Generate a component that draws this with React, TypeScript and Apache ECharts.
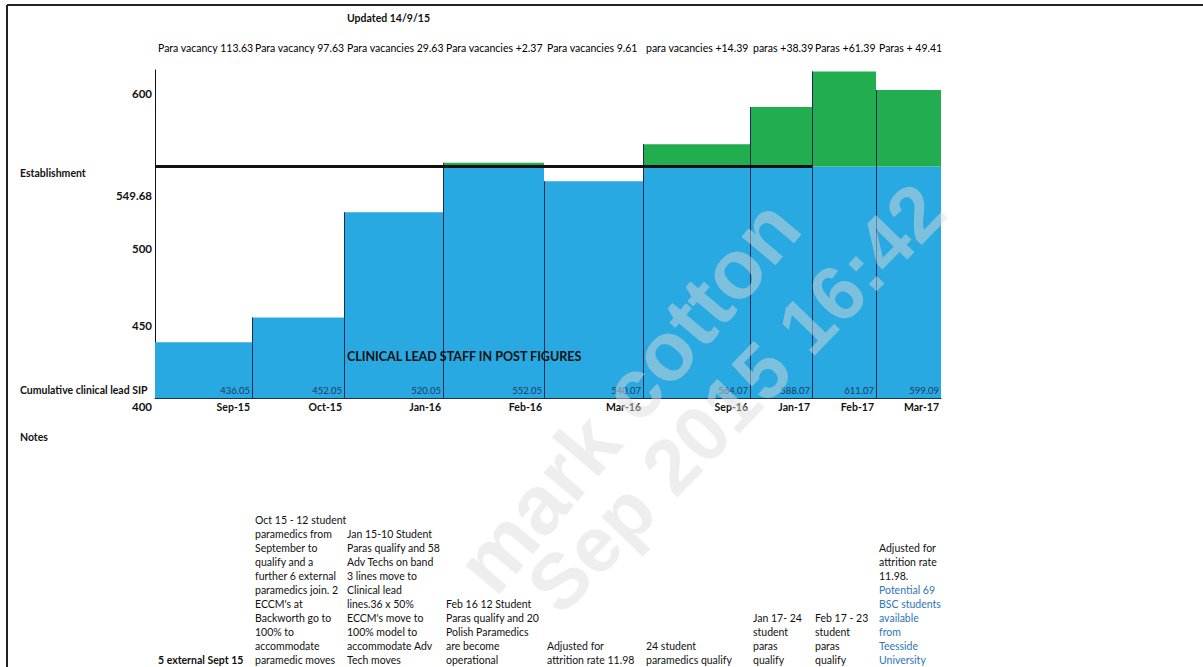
import React, { useEffect, useRef } from 'react';
import * as echarts from 'echarts';

// ---- data ----
const months = ['Sep-15', 'Oct-15', 'Jan-16', 'Feb-16', 'Mar-16', 'Sep-16', 'Jan-17', 'Feb-17', 'Mar-17'];
const staffInPost = [436.05, 452.05, 520.05, 552.05, 540.07, 564.07, 588.07, 611.07, 599.09];
const establishment = 549.68;
const yTickValues = [400, 450, 500, 549.68, 600];
const vacancyPrefixes = [
  'Para vacancy ',
  'Para vacancy ',
  'Para vacancies ',
  'Para vacancies +',
  'Para vacancies ',
  'para vacancies +',
  'paras +',
  'Paras +',
  'Paras + ',
];
const notes = [
  '5 external Sept 15',
  "Oct 15 - 12 student\nparamedics from\nSeptember to\nqualify and a\nfurther 6 external\nparamedics join. 2\nECCM's at\nBackworth go to\n100% to\naccommodate\nparamedic moves",
  "Jan 15-10 Student\nParas qualify and 58\nAdv Techs on band\n3 lines move to\nClinical lead\nlines.36 x 50%\nECCM's move to\n100% model to\naccommodate Adv\nTech moves",
  'Feb 16 12 Student\nParas qualify and 20\nPolish Paramedics\nare become\noperational',
  'Adjusted for\nattrition rate 11.98',
  '24 student\nparamedics qualify',
  'Jan 17- 24\nstudent\nparas\nqualify',
  'Feb 17 - 23\nstudent\nparas\nqualify',
  'Adjusted for\nattrition rate\n11.98.',
];
const noteHighlights = ['', '', '', '', '', '', '', '', 'Potential 69\nBSC students\navailable\nfrom\nTeesside\nUniversity'];

// ---- layout ----
const columnWidths = [97, 92, 99, 101, 99, 107, 62, 64, 65];
const establishmentLineSpan = 7; // columns crossed by the establishment rule
const Y_MIN = 400;
const Y_MAX = 612;
const FONT = 'Lato, "Open Sans", sans-serif';
const BLUE = '#29a9e1';
const GREEN = '#22ad4f';
const DIVIDER = '#1c2c52';
const TEXT = '#111111';
const WATERMARK_FILL = 'rgba(218,218,218,0.47)';

const columnStarts: number[] = [];
columnWidths.reduce((acc, w) => {
  columnStarts.push(acc);
  return acc + w;
}, 0);
const totalWidth = columnWidths.reduce((a, b) => a + b, 0);

const App: React.FC = () => {
  const ref = useRef<HTMLDivElement>(null);

  useEffect(() => {
    if (!ref.current) return;
    const chart = echarts.init(ref.current, undefined, { renderer: 'svg' });

    const seriesData = staffInPost.map((v, i) => [columnStarts[i], columnStarts[i] + columnWidths[i], v]);

    const renderColumn = (params: any, api: any) => {
      const i = params.dataIndex;
      const x0 = api.value(0);
      const x1 = api.value(1);
      const v = api.value(2);
      const [left, bottom] = api.coord([x0, Y_MIN]);
      const right = api.coord([x1, Y_MIN])[0];
      const top = api.coord([x0, v])[1];
      const estY = api.coord([x0, establishment])[1];
      const blueTop = Math.max(top, estY);
      const w = right - left;
      const children: any[] = [
        { type: 'rect', shape: { x: left, y: blueTop, width: w, height: bottom - blueTop }, style: { fill: BLUE } },
      ];
      if (v > establishment) {
        children.push({ type: 'rect', shape: { x: left, y: top, width: w, height: estY - top }, style: { fill: GREEN } });
      }
      if (i > 0) {
        children.push({
          type: 'line',
          shape: { x1: left + 0.5, y1: top, x2: left + 0.5, y2: bottom },
          style: { stroke: DIVIDER, lineWidth: 1 },
        });
      }
      if (i < establishmentLineSpan) {
        children.push({
          type: 'line',
          shape: { x1: left, y1: estY, x2: right, y2: estY },
          style: { stroke: '#111', lineWidth: 3 },
        });
      }
      // value inside bar
      children.push({
        type: 'text',
        style: {
          text: v.toFixed(2),
          x: right - 2,
          y: bottom - 8,
          align: 'right',
          verticalAlign: 'middle',
          fill: '#1f3864',
          fontSize: 9.5,
          fontFamily: FONT,
        },
      });
      // month label under axis
      children.push({
        type: 'text',
        style: {
          text: months[i],
          x: right - 2,
          y: bottom + 9,
          align: 'right',
          verticalAlign: 'middle',
          fill: TEXT,
          fontSize: 10.5,
          fontWeight: 'bold',
          fontFamily: FONT,
        },
      });
      // vacancy / surplus row
      const diff = Math.abs(v - establishment).toFixed(2);
      children.push({
        type: 'text',
        style: {
          text: vacancyPrefixes[i] + diff,
          x: left + 3,
          y: 48,
          align: 'left',
          verticalAlign: 'middle',
          fill: '#000',
          fontSize: 10.5,
          fontFamily: FONT,
        },
      });
      // notes row
      const hl = noteHighlights[i];
      const noteText = hl ? `{n|${notes[i]}}\n{h|${hl}}` : `{n|${notes[i]}}`;
      children.push({
        type: 'text',
        style: {
          text: noteText,
          x: left + 3,
          y: 667,
          align: 'left',
          verticalAlign: 'bottom',
          lineHeight: 14,
          fontSize: 10.5,
          fontFamily: FONT,
          fill: TEXT,
          rich: {
            n: { fill: TEXT, fontSize: 10.5, fontFamily: FONT, lineHeight: 14, fontWeight: i === 0 ? 'bold' : 'normal' },
            h: { fill: '#2e75b6', fontSize: 10.5, fontFamily: FONT, lineHeight: 14 },
          },
        },
      });
      return { type: 'group', children };
    };

    const tickLabelStyle = (pad: number) => ({
      padding: [pad, 0, 0, 0],
      fontSize: 11.5,
      fontWeight: 'bold',
      fontFamily: FONT,
      color: TEXT,
    });

    const watermark = (text: string, x: number, y: number, size: number, angleDeg: number) => ({
      type: 'text',
      x,
      y,
      rotation: (angleDeg * Math.PI) / 180,
      z: 100,
      silent: true,
      style: {
        text,
        fill: WATERMARK_FILL,
        fontSize: size,
        fontWeight: 'bold',
        fontFamily: '"Liberation Sans", Arial, sans-serif',
        align: 'center',
        verticalAlign: 'middle',
      },
    });

    const plainText = (text: string, x: number, y: number, size: number, bold: boolean) => ({
      type: 'text',
      x,
      y,
      z: 10,
      style: {
        text,
        fill: TEXT,
        fontSize: size,
        fontWeight: bold ? 'bold' : 'normal',
        fontFamily: FONT,
        align: 'left',
        verticalAlign: 'middle',
      },
    });

    chart.setOption({
      animation: false,
      backgroundColor: '#ffffff',
      grid: { left: 155, top: 70, width: totalWidth, height: 328, containLabel: false, outerBoundsMode: 'none' },
      xAxis: {
        type: 'value',
        min: 0,
        max: totalWidth,
        axisLine: { show: true, lineStyle: { color: '#1f2f4f', width: 1 } },
        axisTick: { show: false },
        axisLabel: { show: false },
        splitLine: { show: false },
      },
      yAxis: {
        type: 'value',
        min: Y_MIN,
        max: Y_MAX,
        axisLine: { show: true, lineStyle: { color: '#111', width: 1 } },
        axisTick: { show: false },
        splitLine: { show: false },
        axisLabel: {
          customValues: yTickValues,
          margin: 3,
          formatter: (val: number) => {
            if (val === establishment) return `{e|${val}}`;
            if (val === Y_MIN) return `{z|${val}}`;
            return `{a|${val}}`;
          },
          rich: { a: tickLabelStyle(10), e: tickLabelStyle(58), z: tickLabelStyle(16) },
        },
      },
      series: [
        {
          type: 'custom',
          renderItem: renderColumn,
          data: seriesData,
          encode: { x: [0, 1], y: 2 },
          clip: false,
          silent: true,
        },
      ],
      graphic: [
        // page frame
        { type: 'line', shape: { x1: 7, y1: 5, x2: 1203, y2: 5 }, style: { stroke: '#222', lineWidth: 2 }, z: 50 },
        { type: 'line', shape: { x1: 7, y1: 5, x2: 7, y2: 667 }, style: { stroke: '#222', lineWidth: 2 }, z: 50 },
        plainText('Updated 14/9/15', 347, 18, 10.5, true),
        plainText('Establishment', 20, 173, 10.5, true),
        plainText('Cumulative clinical lead SIP', 20, 390, 10.5, true),
        plainText('Notes', 20, 437, 10.5, true),
        plainText('CLINICAL LEAD STAFF IN POST FIGURES', 347, 356, 12.5, true),
        watermark('mark cotton', 628, 396, 84, 50),
        watermark('Sep 2015 16:42', 736, 398, 78, 46),
      ],
    });

    return () => chart.dispose();
  }, []);

  return <div ref={ref} style={{ position: 'fixed', left: 0, top: 0, width: 1203, height: 667 }} />;
};

export default App;
